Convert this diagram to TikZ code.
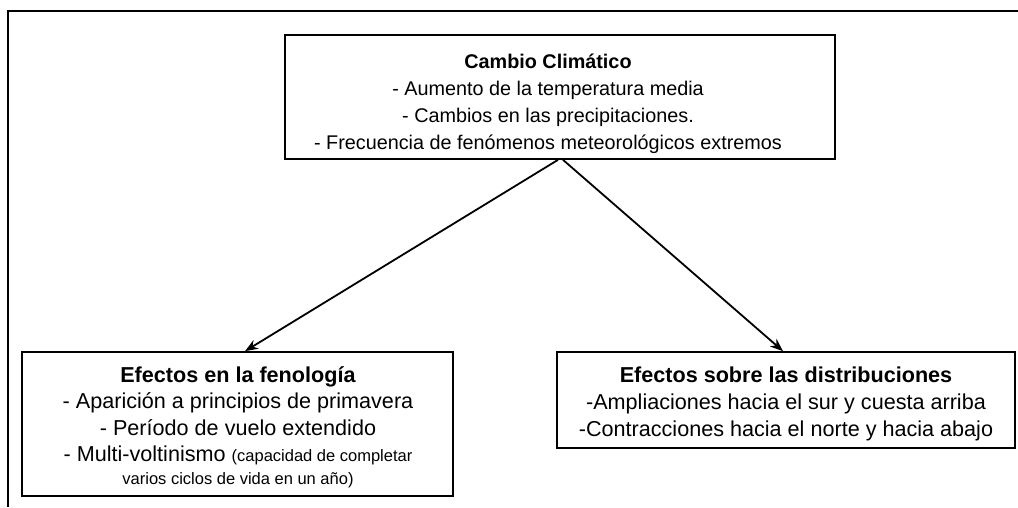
\documentclass[tikz,border=0pt]{standalone}
\usepackage{fontspec}
\setmainfont{Liberation Sans}
\usetikzlibrary{arrows.meta}
\newcommand{\smallnote}{\fontsize{16.5}{19}\selectfont}
\tikzset{
  box/.style={draw=black, line width=1.7pt, inner sep=0pt, fill=white},
  txt/.style={inner sep=0pt, align=center},
  topfont/.style={font=\fontsize{19.8}{27}\selectfont},
  botfont/.style={font=\fontsize{21.6}{26.6}\selectfont},
  arr/.style={line width=1.8pt, -{Stealth[length=13pt,width=10pt]}},
  frame/.style={line width=2.6pt}
}
\begin{document}
\begin{tikzpicture}[x=1pt,y=-1pt]
\useasboundingbox (0,0) rectangle (1018,507);
\coordinate (fa) at (1018,11);
\coordinate (fb) at (8,11);
\coordinate (fc) at (8,507);
\draw[frame] (fa) -- (fb) -- (fc);
\node[box, minimum width=550pt, minimum height=124pt] (top) at (560,97) {};
\node[txt, topfont] (toptext) at (548,104)
  {\textbf{Cambio Climático}\\- Aumento de la temperatura media\\- Cambios en las precipitaciones.\\- Frecuencia de fenómenos meteorológicos extremos};
\node[box, minimum width=431pt, minimum height=144pt] (left) at (237.5,424) {};
\node[txt, botfont, anchor=north] (lefttext) at (238,366)
  {\textbf{Efectos en la fenología}\\- Aparición a principios de primavera\\- Período de vuelo extendido\\- Multi-voltinismo {\smallnote (capacidad de completar}\\[-4pt]{\smallnote varios ciclos de vida en un año)}};
\node[box, minimum width=458pt, minimum height=96pt] (right) at (786,400) {};
\node[txt, botfont] (righttext) at (786,404)
  {\textbf{Efectos sobre las distribuciones}\\-Ampliaciones hacia el sur y cuesta arriba\\-Contracciones hacia el norte y hacia abajo};
\draw[arr] ([xshift=-2pt]top.south) -- ([xshift=7.5pt]left.north);
\draw[arr] ([xshift=3pt]top.south) -- ([xshift=-3pt]right.north);
\end{tikzpicture}
\end{document}
